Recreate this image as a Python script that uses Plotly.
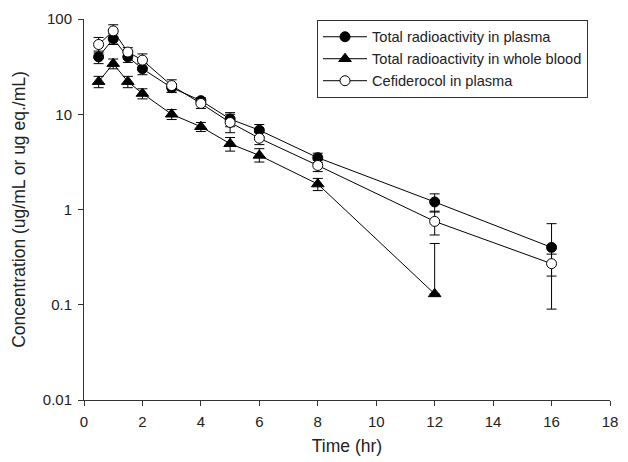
import plotly.graph_objects as go

time = [0.5, 1, 1.5, 2, 3, 4, 5, 6, 8, 12, 16]

plasma_total = [40, 62, 40, 30, 19, 13.9, 8.9, 6.8, 3.5, 1.2, 0.40]
plasma_total_sd = [6, 8, 5, 4, 2, 1.0, 1.5, 1.0, 0.4, 0.26, 0.31]

blood_time = [0.5, 1, 1.5, 2, 3, 4, 5, 6, 8, 12]
blood_total = [22, 34, 22, 16.5, 10, 7.4, 4.9, 3.7, 1.85, 0.13]
blood_total_sd_up = [3, 4, 3, 2, 1.2, 0.8, 0.8, 0.65, 0.27, 0.31]
blood_total_sd_dn = [3, 4, 3, 2, 1.2, 0.8, 0.8, 0.55, 0.27, 0]

cef_plasma = [54, 75, 45, 37, 20, 13, 8.2, 5.6, 2.9, 0.75, 0.27]
cef_plasma_sd = [10, 12, 5, 6, 3, 1.5, 1.8, 0.8, 0.4, 0.21, 0.07]

names = ["Total radioactivity in plasma", "Total radioactivity in whole blood", "Cefiderocol in plasma"]

y_tickvals = [0.01, 0.1, 1, 10, 100]
y_ticktext = ["0.01", "0.1", "1", "10", "100"]
x_tickvals = [0, 2, 4, 6, 8, 10, 12, 14, 16, 18]

fig = go.Figure()

err_style = dict(type="data", color="black", thickness=1, width=5)

fig.add_trace(go.Scatter(
    x=time, y=plasma_total, name=names[0], mode="lines+markers",
    line=dict(color="black", width=1),
    marker=dict(symbol="circle", size=10, color="black", line=dict(color="black", width=1)),
    error_y=dict(array=plasma_total_sd, **err_style),
))
fig.add_trace(go.Scatter(
    x=blood_time, y=blood_total, name=names[1], mode="lines+markers",
    line=dict(color="black", width=1),
    marker=dict(symbol="triangle-up", size=11, color="black", line=dict(color="black", width=1)),
    error_y=dict(array=blood_total_sd_up, arrayminus=blood_total_sd_dn, symmetric=False, **err_style),
))
fig.add_trace(go.Scatter(
    x=time, y=cef_plasma, name=names[2], mode="lines+markers",
    line=dict(color="black", width=1),
    marker=dict(symbol="circle", size=10, color="white", line=dict(color="black", width=1)),
    error_y=dict(array=cef_plasma_sd, **err_style),
))

# the page body adds an 8px margin, so the figure is 8px smaller and shifted
fig.update_layout(
    width=620, height=454,
    margin=dict(l=76, r=18, t=11, b=62),
    paper_bgcolor="white", plot_bgcolor="white",
    font=dict(family="Liberation Sans, Arial", size=15, color="#222"),
    showlegend=True,
    legend=dict(
        x=0.443, y=0.998, xanchor="left", yanchor="top",
        bordercolor="#333", borderwidth=1, bgcolor="white",
        font=dict(size=14.6, color="#222"), tracegroupgap=0,
        itemwidth=44,
    ),
)
fig.update_xaxes(
    range=[0, 18], tickvals=x_tickvals, showgrid=False, zeroline=False,
    showline=True, linecolor="#333", linewidth=1, automargin=False,
    ticks="outside", ticklen=5, tickcolor="#333", ticklabelstandoff=3,
    title=dict(text="Time (hr)", font=dict(size=17.5), standoff=10),
    tickfont=dict(size=15),
)
fig.update_yaxes(
    type="log", range=[-2, 2], tickvals=y_tickvals, ticktext=y_ticktext,
    showgrid=False, zeroline=False, automargin=False,
    showline=True, linecolor="#333", linewidth=1,
    ticks="outside", ticklen=5, tickcolor="#333", ticklabelstandoff=3,
    title=dict(text="Concentration (ug/mL or ug eq./mL)", font=dict(size=17.5), standoff=12),
    tickfont=dict(size=15),
)

fig.write_html("out.html")
